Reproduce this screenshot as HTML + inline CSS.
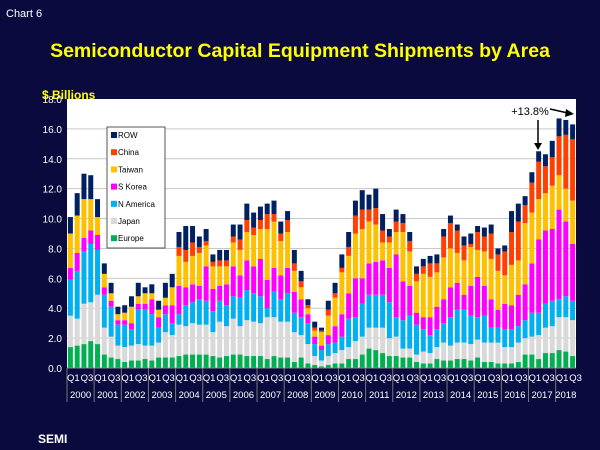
<!DOCTYPE html>
<html><head><meta charset="utf-8"><style>
html,body{margin:0;padding:0;background:#0b0a3f;}
svg{display:block;font-family:"Liberation Sans",sans-serif;}
</style></head><body>
<svg id="chart" width="600" height="450" viewBox="0 0 600 450">
<rect x="0" y="0" width="600" height="450" fill="#0b0a3f"/>
<text x="6" y="17" font-size="11" fill="#ffffff">Chart 6</text>
<text x="300" y="57" font-size="19.5" font-weight="bold" fill="#ffff00" text-anchor="middle">Semiconductor Capital Equipment Shipments by Area</text>
<text x="42" y="99" font-size="12" font-weight="bold" fill="#ffff00">$ Billions</text>
<rect x="67" y="99" width="509" height="269" fill="#ffffff"/>
<g id="grid"></g><g id="bars"></g><g id="axes"></g>
<g>
<rect x="107" y="127" width="58" height="121" fill="#ffffff" stroke="#555" stroke-width="1"/>
<g id="legend-items"></g>
</g>
<text x="530" y="115" font-size="11" fill="#000" text-anchor="middle">+13.8%</text>
<line x="0" x1="538" y1="120" x2="538" y2="147" stroke="#000" stroke-width="1.5"/>
<polygon points="534,143 542,143 538,150" fill="#000"/>
<line x1="550" y1="109" x2="568" y2="113" stroke="#000" stroke-width="1.5"/>
<polygon points="566,109 574,114 565,117" fill="#000"/>
<text x="38" y="443" font-size="12" font-weight="bold" fill="#ffffff">SEMI</text>
</svg>
<script>
const years = ["2000","2001","2002","2003","2004","2005","2006","2007","2008","2009","2010","2011","2012","2013","2014","2015","2016","2017","2018"];
const yTicks = ["0.0","2.0","4.0","6.0","8.0","10.0","12.0","14.0","16.0","18.0"];
const seriesNames = ["Europe","Japan","N America","S Korea","Taiwan","China","ROW"];
const europe = [1.4,1.5,1.6,1.8,1.6,0.9,0.7,0.6,0.4,0.5,0.5,0.6,0.5,0.7,0.7,0.7,0.8,0.9,0.9,0.9,0.9,0.8,0.7,0.8,0.9,0.9,0.8,0.8,0.8,0.6,0.8,0.7,0.7,0.4,0.7,0.3,0.2,0.1,0.2,0.3,0.3,0.6,0.6,0.9,1.3,1.2,1.0,0.8,0.8,0.7,0.7,0.4,0.3,0.3,0.6,0.5,0.5,0.6,0.6,0.5,0.7,0.4,0.4,0.3,0.3,0.3,0.4,0.9,0.9,0.6,1.0,1.0,1.2,1.1,0.8];
const japan = [2.1,1.8,2.7,2.6,3.3,1.8,1.4,0.9,1.0,1.0,1.1,0.9,1.0,1.0,1.7,1.5,2.1,1.9,2.1,2.0,2.0,1.6,2.4,2.0,2.4,1.9,2.4,2.3,2.2,2.8,2.6,2.4,2.4,2.0,1.5,1.3,0.6,0.4,0.6,0.7,0.9,0.8,1.2,1.2,1.4,1.5,1.7,1.2,1.3,0.6,0.6,0.5,0.8,0.7,0.8,1.2,1.0,1.1,1.1,1.1,1.2,1.3,1.3,1.4,1.1,1.1,1.3,1.1,1.2,1.6,1.7,1.8,2.2,2.3,2.4];
const nAmerica = [2.4,3.2,3.5,3.9,3.0,2.2,2.0,1.4,1.5,1.1,2.3,2.4,2.1,1.0,1.2,0.8,0.7,1.4,1.4,1.7,1.6,1.4,1.4,1.4,1.5,1.9,2.0,1.9,1.8,0.6,1.7,1.5,1.9,1.3,1.2,1.4,0.8,0.7,0.8,0.7,0.9,1.9,1.6,2.2,2.2,2.2,2.2,2.4,1.3,1.9,2.2,2.0,1.5,1.2,1.2,1.3,1.9,2.2,2.2,1.9,1.5,1.8,1.0,1.0,1.2,1.2,1.1,1.2,1.6,1.5,1.6,1.7,1.2,1.4,1.3];
const sKorea = [0.8,1.2,0.9,0.9,1.0,0.5,0.4,0.3,0.3,0.4,0.4,0.4,1.0,0.7,0.6,1.2,1.9,1.2,1.2,0.9,2.3,1.5,1.0,1.4,2.0,1.5,2.0,1.8,2.5,1.9,1.6,1.6,1.7,1.4,1.2,0.6,0.5,0.3,0.6,1.1,1.5,1.7,2.6,1.7,2.1,2.2,2.3,2.3,4.2,2.6,2.0,0.8,0.8,1.2,1.5,1.6,2.0,1.8,1.0,2.0,2.7,2.0,1.9,1.2,1.7,1.6,2.1,2.4,3.3,4.9,4.9,4.8,6.0,5.0,3.8];
const taiwan = [2.3,2.5,2.6,2.1,1.2,0.9,0.5,0.4,0.5,1.1,0.5,0.7,0.4,0.5,0.5,1.2,2.0,1.7,1.9,2.2,1.4,1.5,1.3,1.2,1.6,1.7,1.9,2.1,2.0,3.4,3.1,2.3,2.4,1.4,0.8,0.4,0.4,0.9,1.3,1.9,2.8,2.5,3.0,3.3,2.8,2.5,1.2,1.7,1.5,3.3,2.3,2.1,2.9,2.7,2.3,2.8,2.6,2.0,2.3,2.6,1.8,2.3,2.7,2.6,1.9,2.7,2.3,4.1,3.4,2.7,2.5,2.9,2.3,2.2,2.9];
const china = [0,0,0,0,0,0,0,0,0,0,0,0,0,0,0,0,0.6,0.8,0.9,0.4,0.3,0.3,0.4,0.4,0.4,0.7,0.8,0.5,0.6,1.0,0.5,0.5,0.8,0.5,0.4,0.2,0.2,0.1,0.4,0.3,0.3,0.6,1.2,1.3,0.8,1.1,0.8,0.4,0.7,0.6,0.7,0.5,0.5,0.9,0.6,1.4,1.7,1.5,1.0,0.2,1.2,1.0,1.7,1.1,1.6,2.2,2.6,1.2,2.0,2.5,1.8,1.9,2.6,3.6,4.1];
const row = [1.1,1.5,1.7,1.6,1.2,0.7,0.7,0.5,0.5,0.7,0.9,0.4,0.6,0.6,1.0,0.9,1.0,1.6,1.1,0.7,0.8,0.5,0.7,0.7,0.8,1.0,1.1,1.0,0.9,0.7,0.9,0.8,0.6,0.9,0.7,0.4,0.4,0.2,0.6,0.7,0.9,1.0,1.0,1.3,1.0,1.3,1.1,0.5,0.8,0.6,0.6,0.5,0.5,0.5,0.6,0.5,0.5,0.4,0.6,0.7,0.4,0.6,0.6,0.4,0.4,1.4,1.2,0.6,0.7,0.7,0.8,1.1,1.2,1.0,1.0];

const NS = "http://www.w3.org/2000/svg";
const colors = ["#00b050","#d9d9d9","#00b0f0","#ff00ff","#ffc000","#ff4000","#002060"];
const series = [europe, japan, nAmerica, sKorea, taiwan, china, row];
const X0 = 67, X1 = 576, Y0 = 368, Y1 = 99, YMAX = 18;
const n = europe.length;
const step = (X1 - X0) / n;
function xPos(i){ return X0 + i * step; }
function yPos(v){ return Y0 - (v / YMAX) * (Y0 - Y1); }
function mk(tag, attrs, parent){ const e = document.createElementNS(NS, tag); for (const k in attrs) e.setAttribute(k, attrs[k]); parent.appendChild(e); return e; }

const grid = document.getElementById("grid");
const axes = document.getElementById("axes");
yTicks.forEach((t) => {
  const v = parseFloat(t);
  const y = yPos(v);
  if (v > 0 && v < YMAX) {
    const gl = mk("line", {x1: X0, x2: X1, y1: y, y2: y, stroke: "#c8c8c8", "stroke-width": 1}, grid);
    
    
  }
  const tl = mk("text", {x: 62, y: y + 4, "font-size": 10, fill: "#ffffff", "text-anchor": "end"}, axes);
  tl.textContent = t;
  
  
});

const bars = document.getElementById("bars");
for (let i = 0; i < n; i++) {
  let cum = 0;
  for (let s = 0; s < series.length; s++) {
    const v = series[s][i];
    if (v <= 0) continue;
    const yt = yPos(cum + v), yb = yPos(cum);
    const r = mk("rect", {x: xPos(i) + 0.9, y: yt, width: step - 1.8, height: yb - yt, fill: colors[s]}, bars);
    
    
    cum += v;
  }
}

const axisLine = mk("line", {x1: X0, x2: X1, y1: Y0, y2: Y0, stroke: "#888", "stroke-width": 1}, axes);


for (let i = 0; i < n; i++) {
  if (i % 2 === 0) {
    const q = mk("text", {x: xPos(i) + step / 2 + 3, y: 381, "font-size": 9.5, fill: "#ffffff", "text-anchor": "middle"}, axes);
    q.textContent = (i % 4 === 0) ? "Q1" : "Q3";
    
    
  }
}
years.forEach((yr, k) => {
  const xs = xPos(k * 4);
  const sep = mk("line", {x1: xs, x2: xs, y1: Y0, y2: 402, stroke: "#777", "stroke-width": 1}, axes);
  
  
  const cnt = Math.min(4, n - k * 4);
  const yl = mk("text", {x: xs + cnt * step / 2, y: 398, "font-size": 9.5, fill: "#ffffff", "text-anchor": "middle"}, axes);
  yl.textContent = yr;
  
  
});

const leg = document.getElementById("legend-items");
for (let s = series.length - 1; s >= 0; s--) {
  const idx = series.length - 1 - s;
  const y = 138 + idx * 17.2;
  const sw = mk("rect", {x: 111, y: y - 6, width: 6, height: 6, fill: colors[s]}, leg);
  
  
  const lt = mk("text", {x: 118, y: y, "font-size": 8, fill: "#000"}, leg);
  lt.textContent = seriesNames[s];
  
  
}
</script>
</body></html>
